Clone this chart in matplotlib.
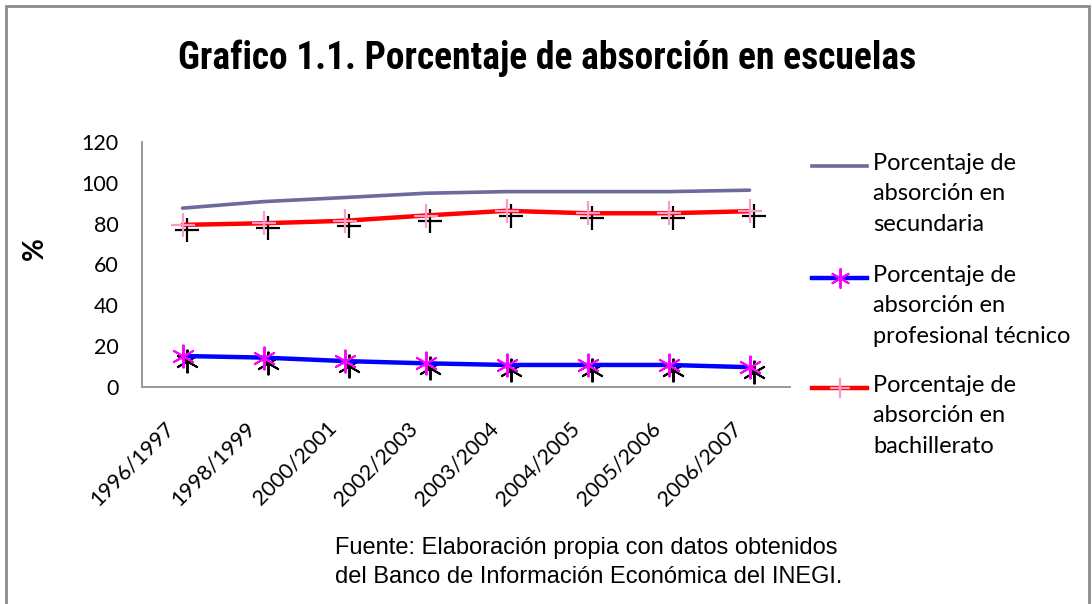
import numpy as np
import matplotlib
matplotlib.use("Agg")
import matplotlib.pyplot as plt
from matplotlib.lines import Line2D
from matplotlib.patches import Rectangle
from matplotlib.transforms import ScaledTranslation
from matplotlib.font_manager import FontProperties, fontManager

# datos del grafico
ciclos = ['1996/1997', '1998/1999', '2000/2001', '2002/2003',
          '2003/2004', '2004/2005', '2005/2006', '2006/2007']
secundaria = [87.6, 90.8, 92.8, 94.9, 95.7, 95.7, 95.7, 96.4]
prof_tecnico = [15.2, 14.4, 12.7, 11.6, 10.8, 10.8, 10.8, 9.7]
bachillerato = [79.4, 80.2, 81.4, 84.0, 86.3, 85.1, 85.1, 86.1]

etiquetas = ['Porcentaje de\nabsorción en\nsecundaria',
             'Porcentaje de\nabsorción en\nprofesional técnico',
             'Porcentaje de\nabsorción en\nbachillerato']

W, H = 1092, 604
fig = plt.figure(figsize=(W / 100, H / 100), dpi=100)

def fx(px):
    return px / W

def fy(py):
    return 1 - py / H

# fuente condensada para el titulo, si hay alguna
names = set(f.name for f in fontManager.ttflist)
title_fp = FontProperties(family='DejaVu Sans', weight='bold', size=22)
for cand in ['Roboto Condensed', 'Liberation Sans Narrow', 'Open Sans Condensed']:
    if cand in names:
        title_fp = FontProperties(family=cand, weight='bold', size=27)
        break

body = ['Lato', 'DejaVu Sans']

# marco exterior
fig.add_artist(Rectangle((fx(6), fy(620)), fx(1089) - fx(6), fy(6) - fy(620),
                         transform=fig.transFigure, fill=False,
                         edgecolor='#8c8c8c', linewidth=2))

ax = fig.add_axes([fx(142), fy(387), fx(790) - fx(142), fy(142) - fy(387)])
x = np.arange(len(ciclos)) + 0.5

star = (6, 2, 0)
shadow = ax.transData + ScaledTranslation(4 / 100, -5 / 100, fig.dpi_scale_trans)

# sombras negras de los marcadores
ax.plot(x, prof_tecnico, linestyle='none', marker=star, ms=17, mew=1.4,
        color='black', transform=shadow, zorder=2)
ax.plot(x, bachillerato, linestyle='none', marker='+', ms=17, mew=1.6,
        color='black', transform=shadow, zorder=2)

estilos = [
    dict(color='#6b6b9c', lw=2.6),
    dict(color='#0000ff', lw=3.2, marker=star, ms=17, mew=1.4, mec='#ff00ff'),
    dict(color='#ff0000', lw=3.2, marker='+', ms=17, mew=1.6, mec='#ff99cc'),
]
for serie, st in zip([secundaria, prof_tecnico, bachillerato], estilos):
    ax.plot(x, serie, zorder=3, solid_capstyle='round', **st)

ax.set_xlim(0, len(ciclos))
ax.set_ylim(0, 120)
ax.set_yticks(range(0, 121, 20))
ax.set_xticks(x)
ax.set_xticklabels([])
for lab in ax.get_yticklabels():
    lab.set_fontsize(15.5)
    lab.set_family(body)
ax.tick_params(axis='x', length=0)
ax.tick_params(axis='y', length=0, pad=17)
for s in ['top', 'right']:
    ax.spines[s].set_visible(False)
for s in ['left', 'bottom']:
    ax.spines[s].set_color('#999999')
    ax.spines[s].set_linewidth(1.4)

# etiquetas del eje x giradas 45 grados
lab_tr = ax.get_xaxis_transform() + ScaledTranslation(-11 / 100, -38 / 100, fig.dpi_scale_trans)
for xi, c in zip(x, ciclos):
    ax.text(xi, 0, c, transform=lab_tr, rotation=45, ha='right', va='center',
            rotation_mode='anchor', fontsize=15.5, family=body)

fig.text(fx(35), fy(249), '%', rotation=90, fontsize=20, fontweight='bold',
         ha='center', va='center', family=body)

fig.text(fx(547), fy(58), 'Grafico 1.1. Porcentaje de absorción en escuelas',
         ha='center', va='center', fontproperties=title_fp)

# leyenda manual
ley_y = [166, 278, 388]
for st, lab, yy in zip(estilos, etiquetas, ley_y):
    fig.add_artist(Line2D([fx(812), fx(867)], [fy(yy), fy(yy)],
                          transform=fig.transFigure, color=st['color'], lw=st['lw']))
    if 'marker' in st:
        fig.add_artist(Line2D([fx(839.5)], [fy(yy)], transform=fig.transFigure,
                              linestyle='none', marker=st['marker'], ms=st['ms'] * 0.85,
                              mew=st['mew'], color=st['mec']))
    fig.text(fx(873), fy(yy - 13), lab, ha='left', va='top', fontsize=17,
             linespacing=1.55, family=body)

fig.text(fx(335), fy(537), 'Fuente: Elaboración propia con datos obtenidos\n'
         'del Banco de Información Económica del INEGI.',
         ha='left', va='top', fontsize=17, linespacing=1.4,
         family=['Liberation Sans', 'DejaVu Sans'])

fig.savefig('out.png', dpi=100)
